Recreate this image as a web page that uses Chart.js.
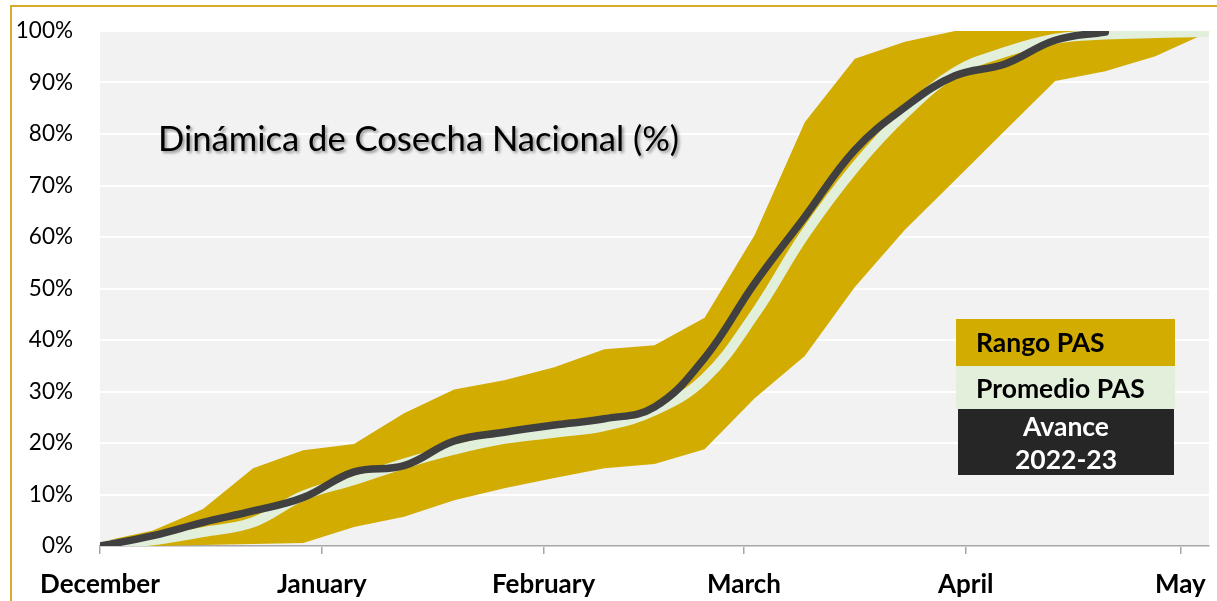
<!DOCTYPE html>
<html>
<head>
<meta charset="utf-8">
<script src="https://cdn.jsdelivr.net/npm/chart.js@4.4.1/dist/chart.umd.min.js"></script>
<style>
  html, body { margin: 0; padding: 0; background: #fff; overflow: hidden; }
  #marco { position: absolute; left: 10px; top: 5px; width: 1400px; height: 800px;
           border-left: 2px solid #d8ab2c; border-top: 2px solid #d8ab2c; }
  #wrap { position: absolute; left: 0; top: 0; width: 1217px; height: 601px; }
</style>
</head>
<body>
<div id="marco"></div>
<div id="wrap"><canvas id="cosecha" width="1217" height="601"></canvas></div>
<script>
// dias desde el 1 de diciembre (datos semanales)
const fechas = [0, 7.4, 14.4, 21.4, 28.4, 35.5, 42.5, 49.5, 56.5, 63.5, 70.5, 77.5,
                84.5, 91.5, 98.5, 105.5, 112.5, 119.5, 126.5, 133.5, 140.5, 147.5, 154.5];

const rangoMax = [0.8, 3, 7.2, 15.1, 18.6, 19.8, 25.8, 30.4, 32.2, 34.7, 38.2, 39,
                  44.3, 60.4, 82.3, 94.6, 97.9, 100, 100, 100, 100, 100, 100];
const rangoMin = [0, 0, 0.2, 0.4, 0.6, 3.7, 5.7, 8.9, 11.2, 13.2, 15.1, 15.9,
                  18.8, 28.7, 36.9, 50.3, 61.4, 71, 80.7, 90.3, 92.2, 95.1, 99.5];
const promedio = [0, 1.1, 2.7, 4.6, 9.8, 12.8, 16, 18.7, 20.8, 22, 23.3, 26.3,
                  32.5, 45, 60.5, 73.5, 84, 92, 95.9, 98.5, 99.3, 99.6, 99.8];
const avance = [0, 2, 4.6, 6.8, 9.4, 14.4, 15.6, 20.4, 22.1, 23.5, 24.7, 27,
                36.5, 51, 63.9, 76.9, 85.2, 91.3, 93.6, 98.2, 99.8];

const mesesDias = [0, 31, 62, 90, 121, 151];
const mesesNombres = ["December", "January", "February", "March", "April", "May"];

const pares = (vals) => vals.map((v, i) => ({ x: fechas[i], y: v }));

const fondo = {
  id: "fondo",
  beforeDraw(chart) {
    const { ctx, chartArea: a } = chart;
    ctx.save();
    ctx.fillStyle = "#f2f2f2";
    ctx.fillRect(a.left, a.top, a.right - a.left, a.bottom - a.top);
    ctx.restore();
  }
};

const rotulos = {
  id: "rotulos",
  afterDraw(chart) {
    const ctx = chart.ctx;
    ctx.save();
    // titulo con sombra
    ctx.font = "34.6px Lato";
    ctx.textBaseline = "alphabetic";
    ctx.textAlign = "left";
    ctx.shadowColor = "rgba(0,0,0,0.4)";
    ctx.shadowOffsetX = 2;
    ctx.shadowOffsetY = 2;
    ctx.shadowBlur = 3;
    ctx.fillStyle = "#000";
    ctx.fillText("Dinámica de Cosecha Nacional (%)", 158, 151);
    ctx.shadowColor = "transparent";

    // leyenda
    ctx.fillStyle = "#d2ac00";
    ctx.fillRect(956, 319, 219, 47);
    ctx.fillStyle = "#e2efda";
    ctx.fillRect(956, 366, 219, 43);
    ctx.fillStyle = "#262626";
    ctx.fillRect(958, 409, 216, 66);

    ctx.font = "bold 26.5px Lato";
    ctx.textBaseline = "middle";
    ctx.fillStyle = "#000";
    ctx.fillText("Rango PAS", 976, 343);
    ctx.fillText("Promedio PAS", 976, 389);
    ctx.textAlign = "center";
    ctx.fillStyle = "#fff";
    ctx.fillText("Avance", 1066, 427);
    ctx.fillText("2022-23", 1066, 460);
    ctx.restore();
  }
};

new Chart(document.getElementById("cosecha"), {
  type: "line",
  data: {
    datasets: [
      {
        label: "Avance 2022-23",
        data: pares(avance),
        borderColor: "#404040",
        borderWidth: 7.5,
        tension: 0.4,
        pointRadius: 0,
        fill: false,
        borderCapStyle: "round",
        borderJoinStyle: "round"
      },
      {
        label: "Promedio PAS",
        data: pares(promedio),
        borderColor: "#e2efda",
        borderWidth: 10,
        tension: 0.4,
        pointRadius: 0,
        fill: false,
        borderCapStyle: "round",
        borderJoinStyle: "round"
      },
      {
        label: "Rango PAS",
        data: pares(rangoMax),
        borderColor: "rgba(0,0,0,0)",
        borderWidth: 0,
        backgroundColor: "#d2ac00",
        fill: "+1",
        tension: 0,
        pointRadius: 0
      },
      {
        label: "Rango PAS min",
        data: pares(rangoMin),
        borderColor: "rgba(0,0,0,0)",
        borderWidth: 0,
        fill: false,
        tension: 0,
        pointRadius: 0
      }
    ]
  },
  options: {
    responsive: false,
    animation: false,
    layout: { padding: { top: 31, right: 8, left: 0, bottom: 0 } },
    plugins: {
      legend: { display: false },
      tooltip: { enabled: false }
    },
    scales: {
      x: {
        type: "linear",
        min: 0,
        max: 155,
        afterBuildTicks(scale) {
          scale.ticks = mesesDias.map(v => ({ value: v }));
        },
        afterFit(scale) {
          scale.height = 55;
          scale.paddingLeft = 0;
          scale.paddingRight = 0;
        },
        ticks: {
          callback: (v, i) => mesesNombres[i],
          font: { family: "Lato", size: 26, weight: "bold" },
          color: "#000",
          padding: 15,
          maxRotation: 0,
          autoSkip: false
        },
        grid: { drawOnChartArea: false, drawTicks: true, tickLength: 8, color: "#a6a6a6", lineWidth: 1.5 },
        border: { display: true, color: "#a6a6a6", width: 1.5 }
      },
      y: {
        min: 0,
        max: 100,
        afterFit(scale) {
          scale.width = 100;
          scale.paddingTop = 0;
          scale.paddingBottom = 0;
        },
        ticks: {
          stepSize: 10,
          callback: v => v + "%",
          font: { family: "Lato", size: 22.5 },
          color: "#000",
          padding: 27
        },
        grid: { color: "#ffffff", lineWidth: 2, drawTicks: false },
        border: { display: false }
      }
    }
  },
  plugins: [fondo, rotulos]
});
</script>
</body>
</html>
